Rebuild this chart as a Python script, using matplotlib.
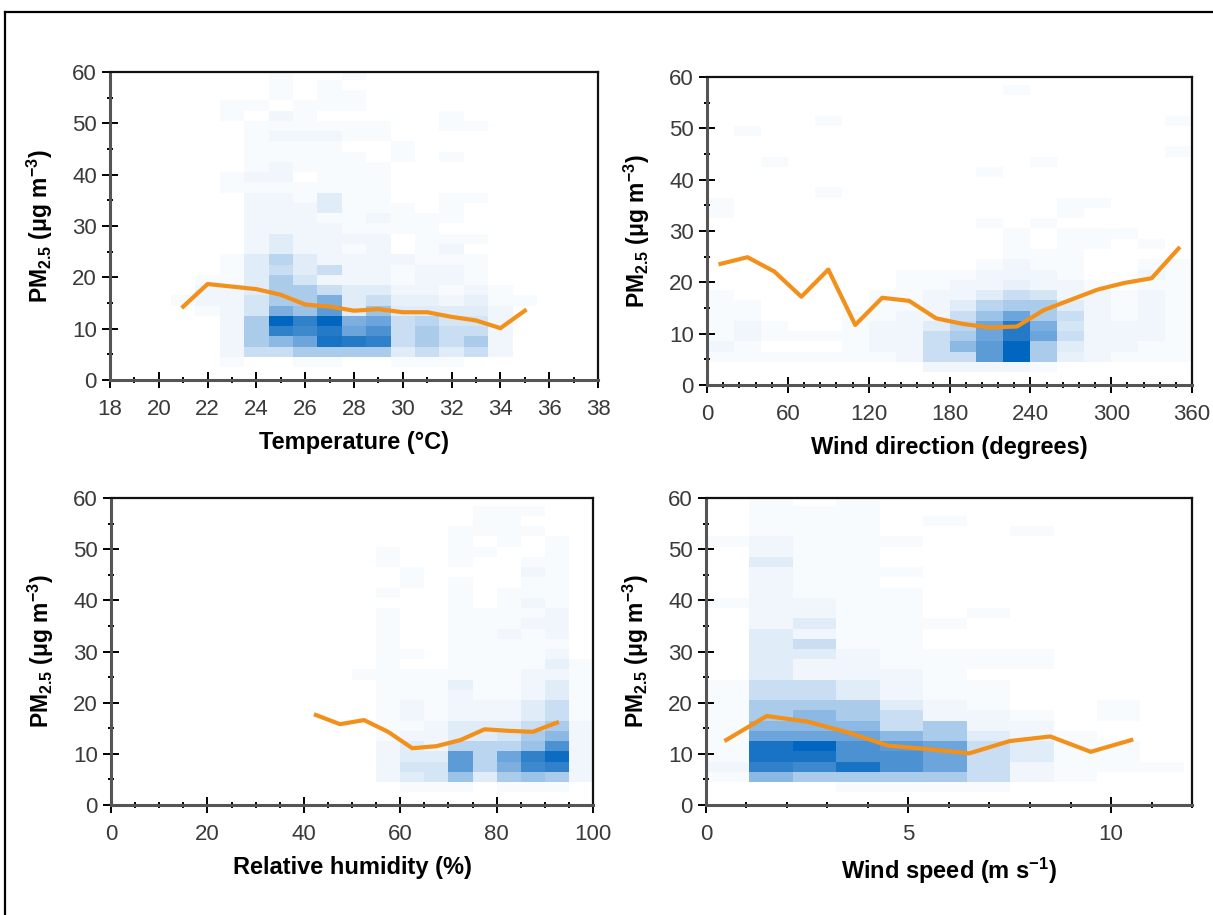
import numpy as np
import matplotlib
matplotlib.use('Agg')
import matplotlib.pyplot as plt
from matplotlib.colors import LinearSegmentedColormap
from matplotlib.ticker import MultipleLocator
from matplotlib.lines import Line2D

plt.rcParams['font.family'] = ['Liberation Sans', 'DejaVu Sans']
plt.rcParams['mathtext.fontset'] = 'custom'
plt.rcParams['mathtext.rm'] = 'Liberation Sans:bold'
plt.rcParams['mathtext.it'] = 'Liberation Sans:bold'
plt.rcParams['mathtext.bf'] = 'Liberation Sans:bold'

# PM2.5 bins (2 ug/m3 wide), shared by all panels
pm_edges = np.arange(2.5, 61, 2)

# ---- temperature ----
temp_edges = np.arange(20.5, 36, 1)
temp_mean_x = [21, 22, 23, 24, 25, 26, 27, 28, 29, 30, 31, 32, 33, 34, 35]
temp_mean_pm = [14.3, 18.7, 18.2, 17.7, 16.6, 14.7, 14.3, 13.5, 13.8, 13.2, 13.2, 12.3, 11.6, 10.1, 13.5]
temp_counts = [
    [0, 0, 1, 0, 0, 1, 1, 0, 0, 1, 1, 1, 0, 0, 0],
    [0, 0, 2, 6, 6, 8, 8, 8, 8, 4, 6, 4, 6, 2, 0],
    [0, 0, 2, 8, 10, 12, 18, 17, 16, 6, 8, 6, 8, 2, 0],
    [0, 0, 2, 8, 16, 15, 17, 12, 14, 6, 8, 6, 6, 2, 0],
    [0, 0, 2, 8, 20, 16, 20, 11, 12, 6, 7, 5, 5, 2, 0],
    [0, 1, 2, 5, 11, 9, 13, 4, 9, 4, 4, 4, 4, 2, 0],
    [1, 2, 2, 5, 8, 8, 11, 4, 6, 3, 3, 2, 3, 1, 1],
    [0, 2, 2, 4, 8, 8, 6, 4, 4, 2, 2, 1, 2, 1, 0],
    [0, 1, 1, 4, 8, 5, 2, 2, 2, 1, 2, 2, 1, 0, 0],
    [0, 0, 1, 4, 6, 4, 6, 2, 2, 1, 2, 2, 1, 0, 0],
    [0, 0, 1, 4, 7, 4, 2, 2, 2, 2, 1, 1, 1, 0, 0],
    [0, 0, 0, 2, 4, 2, 2, 1, 2, 0, 1, 2, 0, 0, 0],
    [0, 0, 0, 2, 4, 2, 2, 2, 2, 0, 1, 1, 1, 0, 0],
    [0, 0, 0, 2, 2, 2, 2, 1, 1, 1, 1, 0, 0, 0, 0],
    [0, 0, 0, 2, 2, 2, 1, 1, 2, 1, 1, 1, 0, 0, 0],
    [0, 0, 0, 2, 2, 2, 4, 1, 1, 1, 0, 1, 0, 0, 0],
    [0, 0, 0, 2, 2, 1, 4, 1, 1, 0, 0, 1, 1, 0, 0],
    [0, 0, 1, 1, 1, 1, 1, 1, 1, 0, 0, 0, 0, 0, 0],
    [0, 0, 1, 2, 2, 0, 1, 1, 1, 0, 0, 0, 0, 0, 0],
    [0, 0, 0, 1, 2, 1, 1, 1, 1, 0, 0, 0, 0, 0, 0],
    [0, 0, 0, 1, 1, 1, 1, 1, 0, 1, 0, 1, 0, 0, 0],
    [0, 0, 0, 1, 1, 1, 1, 0, 0, 1, 0, 0, 0, 0, 0],
    [0, 0, 0, 1, 2, 2, 2, 1, 1, 0, 0, 0, 0, 0, 0],
    [0, 0, 0, 1, 1, 1, 1, 1, 1, 0, 0, 1, 1, 0, 0],
    [0, 0, 1, 0, 2, 1, 0, 0, 0, 0, 0, 1, 0, 0, 0],
    [0, 0, 1, 1, 0, 1, 1, 1, 0, 0, 0, 0, 0, 0, 0],
    [0, 0, 0, 0, 1, 0, 1, 1, 0, 0, 0, 0, 0, 0, 0],
    [0, 0, 0, 0, 1, 0, 1, 0, 0, 0, 0, 0, 0, 0, 0],
    [0, 0, 0, 0, 1, 0, 0, 1, 0, 0, 0, 0, 0, 0, 0],
]

# ---- wind direction ----
wd_edges = np.arange(0, 361, 20)
wd_mean_x = [10, 30, 50, 70, 90, 110, 130, 150, 170, 190, 210, 230, 250, 270, 290, 310, 330, 350]
wd_mean_pm = [23.6, 24.9, 22.1, 17.2, 22.5, 11.7, 17.0, 16.4, 13.0, 11.9, 11.2, 11.4, 14.6, 16.6, 18.6, 19.9, 20.8, 26.6]
wd_counts = [
    [0, 0, 0, 0, 0, 0, 0, 0, 2, 2, 2, 2, 1, 0, 0, 0, 0, 0],
    [1, 1, 1, 1, 1, 1, 1, 2, 6, 6, 13, 20, 8, 3, 2, 1, 1, 1],
    [2, 1, 0, 0, 0, 1, 2, 2, 6, 10, 13, 20, 8, 4, 2, 2, 1, 1],
    [1, 2, 1, 1, 1, 1, 2, 2, 6, 8, 12, 17, 12, 6, 2, 2, 2, 1],
    [1, 2, 1, 0, 0, 1, 2, 2, 4, 7, 12, 17, 11, 5, 2, 2, 2, 1],
    [1, 1, 0, 0, 0, 1, 1, 2, 2, 6, 9, 12, 8, 6, 2, 1, 2, 1],
    [1, 1, 0, 0, 0, 0, 1, 1, 2, 4, 7, 8, 8, 4, 2, 1, 2, 1],
    [1, 0, 0, 0, 0, 0, 1, 1, 2, 2, 4, 6, 5, 2, 2, 1, 2, 1],
    [0, 0, 0, 0, 0, 0, 0, 1, 1, 2, 2, 3, 2, 2, 1, 0, 1, 1],
    [0, 0, 0, 0, 0, 0, 0, 1, 1, 1, 2, 2, 2, 1, 0, 0, 2, 1],
    [0, 0, 0, 0, 0, 0, 0, 0, 0, 0, 1, 2, 1, 1, 0, 0, 1, 1],
    [0, 0, 0, 0, 0, 0, 0, 0, 0, 0, 0, 1, 1, 1, 0, 0, 0, 0],
    [0, 0, 0, 0, 0, 0, 0, 0, 0, 0, 0, 1, 0, 1, 1, 0, 1, 0],
    [0, 0, 0, 0, 0, 0, 0, 0, 0, 0, 0, 1, 0, 1, 1, 1, 0, 0],
    [0, 0, 0, 0, 0, 0, 0, 0, 0, 0, 1, 0, 1, 0, 0, 0, 0, 0],
    [1, 0, 0, 0, 0, 0, 0, 0, 0, 0, 0, 0, 0, 1, 0, 0, 0, 0],
    [1, 0, 0, 0, 0, 0, 0, 0, 0, 0, 0, 0, 0, 1, 1, 0, 0, 0],
    [0, 0, 0, 0, 1, 0, 0, 0, 0, 0, 0, 0, 0, 0, 0, 0, 0, 0],
    [0, 0, 0, 0, 0, 0, 0, 0, 0, 0, 0, 0, 0, 0, 0, 0, 0, 0],
    [0, 0, 0, 0, 0, 0, 0, 0, 0, 0, 1, 0, 0, 0, 0, 0, 0, 0],
    [0, 0, 1, 0, 0, 0, 0, 0, 0, 0, 0, 0, 1, 0, 0, 0, 0, 0],
    [0, 0, 0, 0, 0, 0, 0, 0, 0, 0, 0, 0, 0, 0, 0, 0, 0, 1],
    [0, 0, 0, 0, 0, 0, 0, 0, 0, 0, 0, 0, 0, 0, 0, 0, 0, 0],
    [0, 1, 0, 0, 0, 0, 0, 0, 0, 0, 0, 0, 0, 0, 0, 0, 0, 0],
    [0, 0, 0, 0, 1, 0, 0, 0, 0, 0, 0, 0, 0, 0, 0, 0, 0, 1],
    [0, 0, 0, 0, 0, 0, 0, 0, 0, 0, 0, 0, 0, 0, 0, 0, 0, 0],
    [0, 0, 0, 0, 0, 0, 0, 0, 0, 0, 0, 0, 0, 0, 0, 0, 0, 0],
    [0, 0, 0, 0, 0, 0, 0, 0, 0, 0, 0, 1, 0, 0, 0, 0, 0, 0],
    [0, 0, 0, 0, 0, 0, 0, 0, 0, 0, 0, 0, 0, 0, 0, 0, 0, 0],
]

# ---- relative humidity ----
rh_edges = np.arange(50, 101, 5)
rh_mean_x = [42.5, 47.5, 52.5, 57.5, 62.5, 67.5, 72.5, 77.5, 82.5, 87.5, 92.5]
rh_mean_pm = [17.6, 15.8, 16.6, 14.3, 11.1, 11.5, 12.7, 14.8, 14.5, 14.3, 16.1]
rh_counts = [
    [0, 0, 1, 1, 1, 0, 1, 1, 1, 0],
    [0, 2, 4, 5, 9, 4, 8, 9, 8, 2],
    [0, 2, 5, 5, 13, 7, 11, 15, 16, 2],
    [0, 2, 4, 4, 13, 7, 12, 16, 19, 2],
    [0, 2, 4, 2, 7, 7, 7, 9, 14, 2],
    [0, 1, 2, 2, 4, 4, 5, 8, 10, 2],
    [0, 1, 1, 2, 4, 4, 4, 6, 8, 2],
    [0, 1, 2, 1, 2, 2, 2, 4, 6, 1],
    [0, 1, 2, 1, 2, 2, 2, 4, 6, 1],
    [0, 1, 1, 1, 2, 1, 1, 2, 4, 1],
    [0, 1, 1, 1, 3, 1, 1, 2, 4, 1],
    [1, 1, 1, 1, 1, 1, 1, 2, 2, 1],
    [0, 1, 0, 0, 1, 1, 1, 1, 3, 1],
    [0, 1, 1, 0, 1, 1, 1, 1, 2, 0],
    [0, 1, 0, 0, 1, 1, 1, 1, 1, 0],
    [0, 1, 0, 0, 1, 1, 2, 1, 2, 0],
    [0, 1, 0, 0, 1, 1, 1, 2, 2, 0],
    [0, 1, 0, 0, 1, 1, 1, 1, 2, 0],
    [0, 0, 0, 0, 1, 0, 1, 2, 1, 0],
    [0, 1, 0, 0, 1, 0, 1, 1, 1, 0],
    [0, 0, 1, 0, 1, 0, 0, 1, 1, 0],
    [0, 0, 1, 0, 0, 0, 0, 2, 1, 0],
    [0, 1, 0, 0, 1, 0, 0, 1, 1, 0],
    [0, 1, 0, 0, 1, 1, 0, 0, 1, 0],
    [0, 0, 0, 0, 1, 0, 1, 0, 1, 0],
    [0, 0, 0, 0, 1, 1, 1, 1, 0, 0],
    [0, 0, 0, 0, 0, 1, 1, 0, 0, 0],
    [0, 0, 0, 0, 0, 1, 1, 1, 0, 0],
    [0, 0, 0, 0, 0, 0, 0, 0, 0, 0],
]

# ---- wind speed ----
ws_edges = np.linspace(0, 11.8, 12)
ws_mean_x = [0.5, 1.5, 2.5, 3.5, 4.5, 5.5, 6.5, 7.5, 8.5, 9.5, 10.5]
ws_mean_pm = [12.7, 17.4, 16.3, 14.2, 11.6, 10.9, 10.1, 12.5, 13.4, 10.4, 12.7]
ws_counts = [
    [0, 0, 0, 1, 1, 1, 1, 0, 0, 0, 0],
    [1, 10, 8, 8, 8, 8, 6, 2, 1, 0, 0],
    [2, 16, 15, 18, 14, 12, 6, 2, 1, 1, 1],
    [1, 18, 18, 14, 14, 12, 6, 4, 1, 1, 0],
    [1, 18, 20, 14, 13, 12, 6, 4, 1, 1, 0],
    [1, 12, 12, 12, 10, 8, 4, 2, 1, 0, 0],
    [1, 10, 10, 10, 6, 8, 2, 2, 0, 0, 0],
    [1, 8, 10, 8, 6, 2, 2, 1, 0, 1, 0],
    [1, 8, 8, 8, 4, 2, 1, 0, 0, 1, 0],
    [1, 6, 6, 4, 2, 1, 1, 0, 0, 0, 0],
    [1, 6, 6, 4, 2, 1, 1, 0, 0, 0, 0],
    [0, 4, 2, 2, 2, 1, 0, 0, 0, 0, 0],
    [0, 4, 2, 2, 1, 1, 1, 1, 0, 0, 0],
    [0, 4, 4, 2, 1, 1, 1, 1, 0, 0, 0],
    [0, 4, 6, 1, 1, 0, 0, 0, 0, 0, 0],
    [0, 4, 2, 1, 1, 0, 0, 0, 0, 0, 0],
    [0, 2, 4, 1, 1, 1, 0, 0, 0, 0, 0],
    [0, 2, 2, 1, 1, 0, 1, 0, 0, 0, 0],
    [1, 2, 2, 1, 1, 0, 0, 0, 0, 0, 0],
    [0, 2, 1, 1, 1, 0, 0, 0, 0, 0, 0],
    [0, 2, 1, 1, 0, 0, 0, 0, 0, 0, 0],
    [0, 2, 1, 1, 1, 0, 0, 0, 0, 0, 0],
    [0, 4, 1, 1, 0, 0, 0, 0, 0, 0, 0],
    [0, 2, 1, 1, 0, 0, 0, 0, 0, 0, 0],
    [1, 2, 1, 1, 1, 0, 0, 0, 0, 0, 0],
    [0, 1, 1, 1, 0, 0, 0, 1, 0, 0, 0],
    [0, 1, 1, 1, 0, 1, 0, 0, 0, 0, 0],
    [0, 1, 1, 1, 0, 0, 0, 0, 0, 0, 0],
    [0, 1, 0, 1, 0, 0, 0, 0, 0, 0, 0],
]

blues = LinearSegmentedColormap.from_list('pm_blues', [
    (0.00, '#ffffff'), (0.05, '#f8fbfe'), (0.10, '#f0f6fc'), (0.20, '#e0ecf8'),
    (0.30, '#c9def2'), (0.40, '#abcbeb'), (0.50, '#8cb9e3'), (0.60, '#6ca5db'),
    (0.70, '#4d92d2'), (0.80, '#3181ca'), (0.90, '#1873c4'), (1.00, '#0066bf')])

line_color = '#f39019'
pm_label = r'PM$_{2.5}$ (μg m$^{-3}$)'

panels = [
    # (axes rect, x edges, counts, line x, line y, xlim, major, minor, xlabel)
    ([0.0907, 0.5847, 0.4023, 0.3366], temp_edges, temp_counts, temp_mean_x, temp_mean_pm,
     (18, 38), 2, 1, 'Temperature (°C)'),
    ([0.5829, 0.5792, 0.3998, 0.3366], wd_edges, wd_counts, wd_mean_x, wd_mean_pm,
     (0, 360), 60, 12, 'Wind direction (degrees)'),
    ([0.0915, 0.1202, 0.3974, 0.3355], rh_edges, rh_counts, rh_mean_x, rh_mean_pm,
     (0, 100), 20, 5, 'Relative humidity (%)'),
    ([0.5820, 0.1202, 0.4007, 0.3355], ws_edges, ws_counts, ws_mean_x, ws_mean_pm,
     (0, 12), 5, 1, r'Wind speed (m s$^{-1}$)'),
]

fig = plt.figure(figsize=(12.13, 9.15), dpi=100)

for rect, xe, counts, lx, ly, xlim, major, minor, xlabel in panels:
    ax = fig.add_axes(rect)
    c = np.ma.masked_equal(np.array(counts), 0)
    ax.pcolormesh(xe, pm_edges, c, cmap=blues, vmin=0, vmax=20, zorder=1)
    ax.plot(lx, ly, color=line_color, lw=3, zorder=3)

    ax.set_xlim(*xlim)
    ax.set_ylim(0, 60)
    ax.xaxis.set_major_locator(MultipleLocator(major))
    ax.xaxis.set_minor_locator(MultipleLocator(minor))
    ax.yaxis.set_major_locator(MultipleLocator(10))
    ax.yaxis.set_minor_locator(MultipleLocator(5))
    ax.tick_params(which='major', direction='inout', length=11, width=1.4,
                   color='black', labelsize=16, labelcolor='#3a3a3a')
    ax.tick_params(which='minor', direction='inout', length=4, width=1.4, color='black')
    ax.tick_params(axis='x', which='major', pad=8)
    ax.tick_params(axis='y', which='major', pad=4)

    for side in ('left', 'bottom'):
        ax.spines[side].set_color('#555555')
        ax.spines[side].set_linewidth(2.2)
    for side in ('top', 'right'):
        ax.spines[side].set_color('#111111')
        ax.spines[side].set_linewidth(1.6)

    ax.set_xlabel(xlabel, fontsize=17, fontweight='bold', labelpad=8)
    ax.set_ylabel(pm_label, fontsize=16.5, fontweight='bold', labelpad=12)

# outer frame around the figure
fig.add_artist(Line2D([5 / 1213, 5 / 1213], [0, 1 - 12 / 915], color='black', lw=1.6))
fig.add_artist(Line2D([5 / 1213, 1], [1 - 12 / 915, 1 - 12 / 915], color='black', lw=1.6))

fig.savefig('out.png', dpi=100)
